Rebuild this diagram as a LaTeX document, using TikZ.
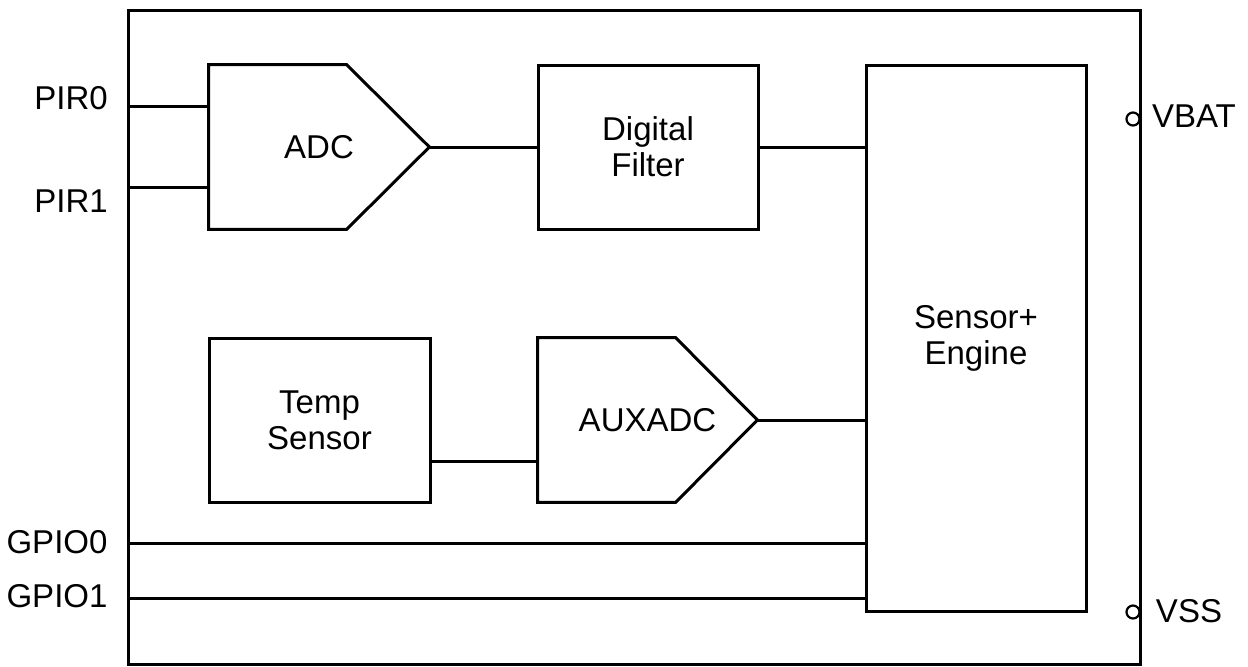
\documentclass[tikz,border=0pt]{standalone}
\usepackage{fontspec}
\setmainfont{Liberation Sans}
\begin{document}
\begin{tikzpicture}[x=0.5pt,y=-0.5pt,
  every node/.style={font=\fontsize{16.5}{18}\selectfont},
  wire/.style={line width=1.5pt},
  blk/.style={draw,line width=1.5pt,rectangle,inner sep=0pt,align=center},
  ghost/.style={rectangle,inner sep=0pt,align=center},
  pin/.style={circle,draw,line width=1.1pt,fill=white,minimum size=6.5pt,inner sep=0pt},
  lbl/.style={inner sep=0pt,anchor=center}]
\useasboundingbox (0,0) rectangle (1248,666);
% outer chip
\node[blk,minimum width=506pt,minimum height=327pt] (chip) at (634,337) {};
% blocks
\node[ghost,minimum width=110pt,minimum height=82pt] (adc) at (319,147) {ADC};
\draw[line width=1.5pt,line join=miter] (adc.north west) -- ([xshift=69pt]adc.north west) -- (adc.east)
  -- ([xshift=69pt]adc.south west) -- (adc.south west) -- cycle;
\node[blk,minimum width=110pt,minimum height=82pt] (filter) at (648,147) {Digital\\Filter};
\node[blk,minimum width=110pt,minimum height=273pt] (sensor) at (976,338) {Sensor+\\Engine};
\node[blk,minimum width=110.5pt,minimum height=82pt] (temp) at (319.5,420) {Temp\\Sensor};
\node[ghost,minimum width=109.5pt,minimum height=82pt] (aux) at (647.5,420) {AUXADC};
\draw[line width=1.5pt,line join=miter] (aux.north west) -- ([xshift=69pt]aux.north west) -- (aux.east)
  -- ([xshift=69pt]aux.south west) -- (aux.south west) -- cycle;
% input pins
\coordinate (pir0) at (128,106);
\coordinate (pir1) at (128,187);
\coordinate (gpio0) at (128,543);
\coordinate (gpio1) at (128,598);
\node[lbl] (pir0l) at (71,98) {PIR0};
\node[lbl] (pir1l) at (71,201) {PIR1};
\node[lbl] (gpio0l) at (57,542) {GPIO0};
\node[lbl] (gpio1l) at (57,596) {GPIO1};
% connectors
\draw[wire] (pir0) -- (adc.west |- pir0);
\draw[wire] (pir1) -- (adc.west |- pir1);
\draw[wire] (adc.east) -- (filter.west);
\draw[wire] (filter.east) -- (sensor.west |- filter.east);
\coordinate (tempout) at ([yshift=-20.5pt]temp.east);
\draw[wire] (tempout) -- (aux.west |- tempout);
\draw[wire] (aux.east) -- (sensor.west |- aux.east);
\draw[wire] (gpio0) -- (sensor.west |- gpio0);
\draw[wire] (gpio1) -- (sensor.west |- gpio1);
% supply pins
\node[pin] (vbat) at (1133,119) {};
\node[pin] (vss) at (1133,612) {};
\node[lbl] (vbatl) at (1194,116) {VBAT};
\node[lbl] (vssl) at (1189,611) {VSS};
\end{tikzpicture}
\end{document}
